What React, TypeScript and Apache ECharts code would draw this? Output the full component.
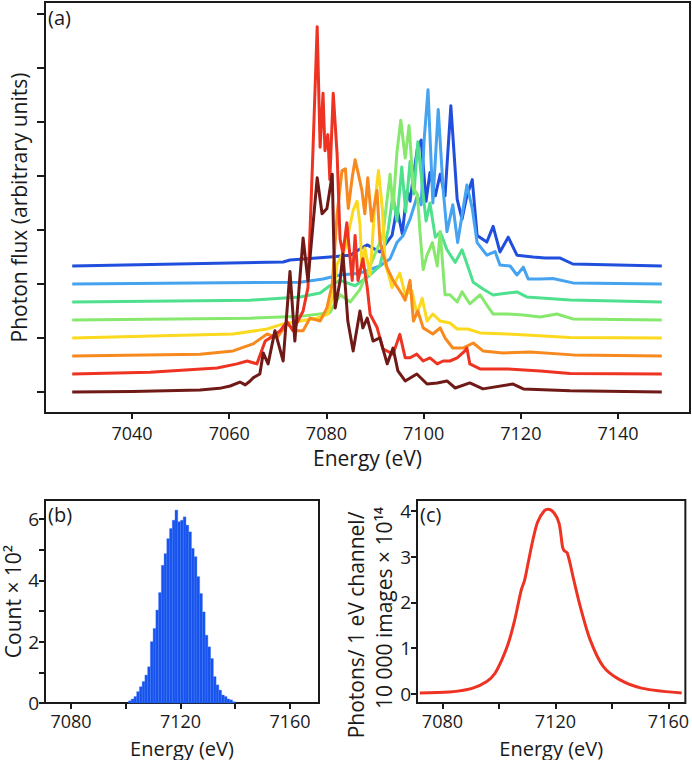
import React, { useEffect, useRef } from "react";
import * as echarts from "echarts";

// ---------- Panel (a): spectra, [energy eV, height above own baseline] ----------
const darkRed: [number, number][] = [
  [7027.7, 0], [7040, 0.03], [7054, 0.11], [7058, 0.2], [7060.2, 0.33], [7062.2, 0.55], [7063.3, 0.39], [7064.3, 0.61],
  [7064.9, 0.78], [7066.3, 1.0], [7067, 2.17], [7068, 1.56], [7069.4, 3.4], [7069.8, 3.0], [7071.1, 1.72],
  [7072.5, 6.7], [7073.5, 2.83], [7075.2, 8.56], [7076.2, 6.17], [7078.1, 11.9], [7079.1, 9.9], [7080.1, 10.2],
  [7081.2, 12.1], [7081.8, 4.67], [7082.8, 6.17], [7083.4, 7.67], [7084.4, 3.94], [7085.5, 2.28], [7086.9, 4.5],
  [7087.5, 3.56], [7088.4, 4.1], [7089.6, 2.83], [7091, 3.0], [7092.5, 1.56], [7093.7, 2.44], [7094.7, 1.17],
  [7096.2, 0.61], [7098.6, 1.0], [7100.7, 0.44], [7102.8, 0.5], [7104.8, 0.61], [7106.5, 0.22], [7109.5, 0.5],
  [7112.2, 0.17], [7118.4, 0.44], [7120.5, 0.17], [7130.1, 0.06], [7149, 0],
];
const red: [number, number][] = [
  [7027.7, 0], [7043.7, 0.1], [7057.5, 0.33], [7061.6, 0.56], [7063.7, 0.72], [7065.7, 0.56], [7067.4, 1.83],
  [7068.4, 2.0], [7070.5, 2.4], [7071.9, 2.9], [7073.1, 2.4], [7075.2, 3.5], [7076.2, 4.8], [7077.2, 12.2],
  [7078.1, 19.3], [7078.7, 12.6], [7079.3, 15.6], [7079.7, 12.4], [7080.3, 13.3], [7080.7, 10.8], [7081.4, 15.6],
  [7082.2, 12.2], [7082.8, 7.5], [7083.4, 6.7], [7084.2, 8.4], [7085.3, 5.2], [7085.9, 7.7], [7086.5, 5.2],
  [7087.5, 6.4], [7088.4, 4.8], [7089, 3.3], [7090.4, 2.6], [7091.6, 1.4], [7093.7, 1.1], [7095.1, 2.2],
  [7096.2, 0.9], [7097.2, 0.9], [7098.6, 1.1], [7099.9, 0.72], [7101.3, 0.89], [7102.8, 0.56], [7104, 0.72],
  [7105.4, 0.72], [7106.9, 0.89], [7108.5, 1.28], [7108.9, 1.44], [7109.5, 0.56], [7111.6, 0.28], [7117.2, 0.28],
  [7124, 0.17], [7130.1, 0.03], [7149, 0],
];
const orange: [number, number][] = [
  [7027.7, 0], [7054, 0.1], [7060.8, 0.28], [7064.9, 0.67], [7067.8, 1.22], [7069.8, 1.0], [7071.9, 1.78],
  [7073.9, 1.4], [7075.2, 1.4], [7076.6, 2.1], [7078.7, 1.94], [7080.1, 2.67], [7081.2, 4.0], [7082.2, 7.9],
  [7083.2, 10.3], [7083.9, 10.4], [7084.5, 8.2], [7085.3, 9.9], [7085.9, 10.9], [7086.5, 10.2], [7087.3, 9.2],
  [7087.9, 7.9], [7088.5, 9.9], [7089.3, 7.5], [7090.4, 9.2], [7091, 6.4], [7091.6, 5.7], [7092.5, 4.9],
  [7093.7, 4.2], [7095.6, 3.4], [7096.2, 3.1], [7097.2, 4.2], [7097.9, 1.94], [7098.8, 2.5], [7099.9, 1.56],
  [7101.9, 1.22], [7103.4, 1.56], [7104.4, 1.0], [7106, 0.44], [7108.1, 0.44], [7110.2, 0.72], [7112.2, 0.28],
  [7116.3, 0.17], [7121.9, 0.22], [7130.7, 0.06], [7149, 0],
];
const yellow: [number, number][] = [
  [7027.7, 0], [7060.8, 0.22], [7067.8, 0.5], [7071.1, 0.78], [7074.6, 0.94], [7078.1, 1.1], [7080.3, 1.33],
  [7081.4, 2.4], [7082.2, 4.1], [7083.9, 5.0], [7085.5, 7.1], [7086.3, 7.6], [7086.9, 6.3], [7087.3, 3.9],
  [7087.9, 5.0], [7089, 3.5], [7090, 7.6], [7090.7, 9.3], [7091.5, 7.2], [7092.1, 4.1], [7092.7, 3.6],
  [7093.5, 2.8], [7095.1, 3.6], [7096.2, 2.4], [7097.6, 2.6], [7098.6, 1.33], [7099.7, 2.2], [7100.7, 0.94],
  [7101.9, 1.33], [7103.4, 0.94], [7105.4, 0.83], [7106.9, 0.5], [7109.1, 0.5], [7111.6, 0.28], [7117.2, 0.22],
  [7130.1, 0.03], [7149, 0],
];
const lightGreen: [number, number][] = [
  [7027.7, 0], [7064.3, 0.1], [7074.6, 0.2], [7080.7, 0.4], [7082.8, 1.4], [7084.9, 1.0], [7086.9, 1.7],
  [7089.6, 3.4], [7091.6, 4.7], [7093.1, 8.1], [7093.7, 6.2], [7094.5, 9.3], [7095.3, 11.1], [7096.2, 9.0],
  [7097, 10.8], [7097.9, 7.3], [7098.7, 7.0], [7099.3, 4.7], [7099.9, 2.8], [7100.7, 3.6], [7101.8, 4.3],
  [7102.8, 3.0], [7103.4, 4.9], [7104.4, 1.4], [7105.4, 1.4], [7106.9, 1.0], [7107.9, 1.56], [7109.5, 0.9],
  [7111.6, 1.4], [7113, 0.83], [7114.3, 0.33], [7117.2, 0.33], [7120.5, 0.28], [7124, 0.17], [7127.4, 0.33],
  [7130.7, 0.06], [7149, 0],
];
const teal: [number, number][] = [
  [7027.7, 0], [7064.3, 0.1], [7074.6, 0.28], [7078.7, 0.5], [7080.7, 0.9], [7082.8, 1.2], [7085.9, 0.9],
  [7089, 1.5], [7091, 2.0], [7092.7, 4.0], [7093.7, 6.0], [7094.5, 4.5], [7095.5, 7.5], [7096.3, 5.0],
  [7097.2, 7.8], [7098, 6.0], [7098.8, 8.9], [7099.7, 6.5], [7100.5, 4.5], [7101.3, 5.5], [7102.4, 3.6],
  [7103.4, 3.9], [7104.8, 2.9], [7106.5, 2.2], [7107.9, 2.9], [7109, 2.06], [7110.2, 1.1], [7112.2, 0.72],
  [7114.3, 0.39], [7115.7, 0.44], [7119.2, 0.56], [7121.2, 0.28], [7130.1, 0.11], [7149, 0],
];
const lightBlue: [number, number][] = [
  [7027.7, 0], [7074.6, 0.1], [7079.3, 0.28], [7082.8, 0.5], [7086.9, 0.6], [7091, 1.0], [7093.1, 1.4],
  [7094.5, 2.3], [7095.8, 2.7], [7097.2, 3.6], [7098.7, 4.9], [7099.5, 4.4], [7100.1, 8.0], [7100.9, 10.8],
  [7101.9, 4.5], [7103, 9.7], [7104, 5.3], [7104.8, 2.9], [7106, 4.4], [7107, 2.3], [7108.9, 5.5], [7110, 4.2],
  [7111, 2.3], [7113, 1.6], [7114.7, 1.8], [7115.7, 1.06], [7117.8, 1.0], [7119.2, 0.5], [7120.5, 0.94],
  [7121.5, 0.28], [7124, 0.28], [7126.6, 0.3], [7130.7, 0.06], [7149, 0],
];
const blue: [number, number][] = [
  [7027.7, 0], [7071.1, 0.22], [7072.5, 0.33], [7080.7, 0.5], [7084.9, 0.6], [7086.9, 0.94], [7088.4, 1.17],
  [7091, 0.78], [7093.5, 1.7], [7094.5, 3.2], [7095.6, 1.8], [7096.6, 4.2], [7097.2, 3.6], [7097.9, 5.0],
  [7098.7, 6.5], [7099.5, 7.0], [7100.5, 3.6], [7101.3, 5.2], [7102.4, 3.9], [7103.4, 5.1], [7104.4, 3.9],
  [7105.6, 8.9], [7106.9, 3.7], [7107.9, 2.6], [7108.9, 3.9], [7110, 4.8], [7111, 1.7], [7113, 1.33],
  [7114.3, 2.2], [7115.7, 0.78], [7117.4, 1.6], [7119.2, 0.6], [7122.5, 0.5], [7125, 0.44], [7128.1, 0.44],
  [7130.7, 0.11], [7149, 0],
];
// drawing order: blue first, dark red last (on top)
const spectra = [blue, lightBlue, teal, lightGreen, yellow, orange, red, darkRed];
const baselineOffsets = [7, 6, 5, 4, 3, 2, 1, 0];
const spectraColors = ["#1f4fdc", "#45a3f0", "#4fe08e", "#86e86c", "#fbd91e", "#f8891e", "#ee3322", "#6f1a17"];
const aXTicks = [7040, 7060, 7080, 7100, 7120, 7140];
const aYTicks = [0, 3, 6, 9, 12, 15, 18, 21];

// ---------- Panel (b): histogram, bin centre (eV) and count ×10² ----------
const histCenters = [
  7101.5, 7102.5, 7103.5, 7104.5, 7105.5, 7106.5, 7107.5, 7108.5, 7109.5, 7110.5, 7111.5, 7112.5, 7113.5,
  7114.5, 7115.5, 7116.5, 7117.5, 7118.5, 7119.5, 7120.5, 7121.5, 7122.5, 7123.5, 7124.5, 7125.5, 7126.5,
  7127.5, 7128.5, 7129.5, 7130.5, 7131.5, 7132.5, 7133.5, 7134.5, 7135.5, 7136.5, 7137.5, 7138.5, 7139.5,
];
const histCounts = [
  0.07, 0.13, 0.21, 0.37, 0.53, 0.7, 0.91, 1.18, 2.0, 2.43, 3.03, 3.6, 4.49, 4.87, 5.36, 5.69, 5.96, 6.29,
  5.91, 5.96, 6.07, 5.8, 5.58, 5.04, 4.77, 4.12, 3.57, 2.97, 2.21, 1.83, 1.45, 0.86, 0.59, 0.42, 0.26, 0.21,
  0.13, 0.1, 0.04,
];
const bXTicks = [7080, 7100, 7120, 7140, 7160];
const bXLabels = [7080, 7120, 7160];
const bYTicks = [0, 1, 2, 3, 4, 5, 6];
const bYLabels = [0, 2, 4, 6];

// ---------- Panel (c): photons per channel ----------
const cEnergy = [
  7072, 7082.4, 7090.5, 7095.7, 7098.6, 7101, 7103.3, 7105.6, 7107.9, 7109.1, 7110.3, 7112, 7113.7, 7116,
  7117.5, 7119.6, 7121.3, 7122.5, 7123, 7124.2, 7126.5, 7128.8, 7132.3, 7136.9, 7142.7, 7150.8, 7164.7,
];
const cPhotons = [
  0.02, 0.04, 0.12, 0.27, 0.45, 0.74, 1.1, 1.62, 2.27, 2.49, 2.85, 3.36, 3.76, 4.0, 4.04, 3.95, 3.73, 3.22,
  3.14, 3.08, 2.49, 1.91, 1.18, 0.6, 0.31, 0.12, 0.02,
];
const cXTicks = [7080, 7100, 7120, 7140, 7160];
const cXLabels = [7080, 7120, 7160];
const cYTicks = [0, 1, 2, 3, 4];

const FONT = "Open Sans";
const INK = "#1a1a1a";
const plain = (v: number) => String(v);

function tickAxisX(gridIndex: number, min: number, max: number, ticks: number[], labels: number[], fontSize: number, margin: number, nameGap: number, nameSize: number) {
  return {
    type: "value",
    gridIndex,
    min,
    max,
    position: "bottom",
    axisLine: { show: false, onZero: false },
    axisTick: { show: true, customValues: ticks, length: 6, inside: false, lineStyle: { color: INK, width: 2 } },
    axisLabel: { show: true, customValues: labels, formatter: plain, fontSize, lineHeight: fontSize, color: INK, fontFamily: FONT, margin },
    splitLine: { show: false },
    name: "Energy (eV)",
    nameLocation: "middle",
    nameGap,
    nameTextStyle: { fontSize: nameSize, lineHeight: nameSize, color: INK, fontFamily: FONT },
  };
}

function tickAxisY(gridIndex: number, min: number, max: number, ticks: number[], labels: number[] | null, length: number) {
  return {
    type: "value",
    gridIndex,
    min,
    max,
    position: "left",
    axisLine: { show: false, onZero: false },
    axisTick: { show: true, customValues: ticks, length, inside: false, lineStyle: { color: INK, width: 2 } },
    axisLabel: labels
      ? { show: true, customValues: labels, formatter: plain, fontSize: 19, color: INK, fontFamily: FONT, margin: 6 }
      : { show: false },
    splitLine: { show: false },
  };
}

export default function App() {
  const ref = useRef<HTMLDivElement>(null);
  useEffect(() => {
    if (!ref.current) return;
    const chart = echarts.init(ref.current, undefined, { renderer: "svg" });
    const lineSeries = spectra.map((s, i) => ({
      type: "line",
      xAxisIndex: 0,
      yAxisIndex: 0,
      data: s.map(([e, v]) => [e, v + baselineOffsets[i]]),
      showSymbol: false,
      symbol: "none",
      lineStyle: { color: spectraColors[i], width: 3, join: "round" },
      z: 2 + i,
    }));
    const option = {
      animation: false,
      textStyle: { fontFamily: FONT },
      grid: [
        { left: 45, top: 2, width: 645, height: 411, show: true, borderColor: INK, borderWidth: 2, backgroundColor: "transparent" },
        { left: 45, top: 500, width: 274, height: 203, show: true, borderColor: INK, borderWidth: 2, backgroundColor: "transparent" },
        { left: 417, top: 500, width: 273, height: 203, show: true, borderColor: INK, borderWidth: 2, backgroundColor: "transparent" },
      ],
      xAxis: [
        tickAxisX(0, 7022.1, 7154.8, aXTicks, aXTicks, 18, 11, 34, 21),
        tickAxisX(1, 7070.5, 7170.6, bXTicks, bXLabels, 18, 9, 35, 20),
        tickAxisX(2, 7071, 7166, cXTicks, cXLabels, 18, 9, 35, 20),
      ],
      yAxis: [
        {
          ...tickAxisY(0, -1.17, 21.67, aYTicks, null, 8),
          name: "Photon flux (arbitrary units)",
          nameLocation: "middle",
          nameRotate: 90,
          nameGap: 16,
          nameTextStyle: { fontSize: 21, color: INK, fontFamily: FONT },
        },
        {
          ...tickAxisY(1, 0, 6.62, bYTicks, bYLabels, 6),
          name: "Count × 10²",
          nameLocation: "middle",
          nameRotate: 90,
          nameGap: 22,
          nameTextStyle: { fontSize: 21, color: INK, fontFamily: FONT },
        },
        tickAxisY(2, -0.2, 4.24, cYTicks, cYTicks, 6),
      ],
      graphic: [
        { type: "text", left: 48, top: 7, style: { text: "(a)", fontSize: 20, fill: INK, fontFamily: FONT } },
        { type: "text", left: 48, top: 504, style: { text: "(b)", fontSize: 20, fill: INK, fontFamily: FONT } },
        { type: "text", left: 420, top: 504, style: { text: "(c)", fontSize: 20, fill: INK, fontFamily: FONT } },
        {
          type: "text",
          x: 356,
          y: 625,
          rotation: Math.PI / 2,
          style: { text: "Photons/ 1 eV channel/", fontSize: 21, fill: INK, fontFamily: FONT, align: "center", verticalAlign: "middle" },
        },
        {
          type: "text",
          x: 384,
          y: 608,
          rotation: Math.PI / 2,
          style: { text: "10 000 images × 10¹⁴", fontSize: 21, fill: INK, fontFamily: FONT, align: "center", verticalAlign: "middle" },
        },
      ],
      series: [
        ...lineSeries,
        {
          type: "custom",
          xAxisIndex: 1,
          yAxisIndex: 1,
          data: histCenters.map((c, i) => [c, histCounts[i]]),
          encode: { x: 0, y: 1 },
          renderItem: (_params: any, api: any) => {
            const x = api.value(0);
            const y = api.value(1);
            const p0 = api.coord([x - 0.5, y]);
            const p1 = api.coord([x + 0.5, 0]);
            return {
              type: "rect",
              shape: { x: p0[0], y: p0[1], width: p1[0] - p0[0], height: p1[1] - p0[1] },
              style: { fill: "#1652ee", stroke: "#3a74f2", lineWidth: 0.4 },
            };
          },
        },
        {
          type: "line",
          xAxisIndex: 2,
          yAxisIndex: 2,
          data: cEnergy.map((e, i) => [e, cPhotons[i]]),
          showSymbol: false,
          symbol: "none",
          smooth: 0.3,
          lineStyle: { color: "#ee3322", width: 3 },
        },
      ],
    };
    chart.setOption(option as any);
    return () => chart.dispose();
  }, []);
  return <div ref={ref} style={{ position: "fixed", left: 0, top: 0, width: 692, height: 760, background: "#fff" }} />;
}
